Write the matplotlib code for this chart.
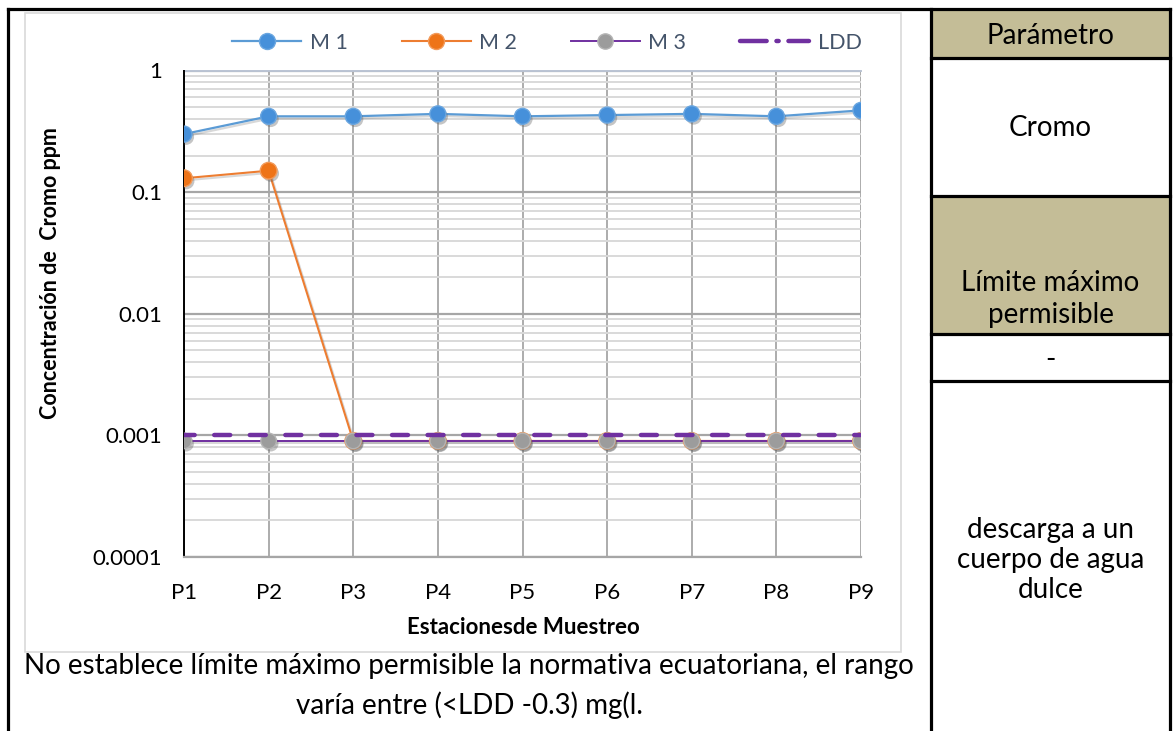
import matplotlib
matplotlib.use("Agg")
import matplotlib.pyplot as plt
import matplotlib.patheffects as pe
from matplotlib.lines import Line2D
from matplotlib.patches import Rectangle
from matplotlib.ticker import LogLocator, NullFormatter

plt.rcParams['font.family'] = ['Lato', 'DejaVu Sans']

# ---- data -------------------------------------------------------------
stations = ['P1', 'P2', 'P3', 'P4', 'P5', 'P6', 'P7', 'P8', 'P9']
m1 = [0.30, 0.42, 0.42, 0.44, 0.42, 0.43, 0.44, 0.42, 0.47]
m2 = [0.13, 0.15, 0.0009, 0.0009, 0.0009, 0.0009, 0.0009, 0.0009, 0.0009]
m3 = [0.0009, 0.0009, 0.0009, 0.0009, 0.0009, 0.0009, 0.0009, 0.0009, 0.0009]
ldd = [0.001, 0.001, 0.001, 0.001, 0.001, 0.001, 0.001, 0.001, 0.001]
series_names = ['M 1', 'M 2', 'M 3', 'LDD']
ytick_vals = [0.0001, 0.001, 0.01, 0.1, 1]
ytick_labels = ['0.0001', '0.001', '0.01', '0.1', '1']

table_rows = ['Parámetro', 'Cromo', 'Límite máximo\npermisible', '-',
              'descarga a un\ncuerpo de agua\ndulce']
note = ('No establece límite máximo permisible la normativa ecuatoriana, el rango\n'
        'varía entre (<LDD -0.3) mg(l.')

# ---- figure geometry (pixels) -----------------------------------------
W, H = 1173, 731
fig = plt.figure(figsize=(W / 100, H / 100), dpi=100)


def fx(x):
    return x / W


def fy(y):
    return 1 - y / H


ax_l, ax_r, ax_t, ax_b = 184, 861, 70.5, 557
ax = fig.add_axes([fx(ax_l), fy(ax_b), (ax_r - ax_l) / W, (ax_b - ax_t) / H])

x = list(range(len(stations)))

c_blue, c_orange, c_gray, c_purple = '#5B9BD5', '#ED7D31', '#A5A5A5', '#7030A0'

line_shadow = [pe.SimpleLineShadow(offset=(1.2, -1.5), shadow_color='0.4', alpha=0.25), pe.Normal()]
mark_shadow = [pe.SimplePatchShadow(offset=(1.5, -2.0), shadow_rgbFace='0.35', alpha=0.35), pe.Normal()]

# lines
ax.plot(x, m1, color=c_blue, lw=1.6, zorder=4, path_effects=line_shadow)
ax.plot(x, m2, color=c_orange, lw=1.5, zorder=4, path_effects=line_shadow)
ax.plot(x, m3, color=c_purple, lw=1.4, zorder=5, path_effects=line_shadow)

# markers
ax.plot(x, m1, ls='none', marker='o', ms=11.5, mfc='#4690DA', mec='#6AA6E0', mew=1.0,
        zorder=6, path_effects=mark_shadow)
ax.plot(x, m2, ls='none', marker='o', ms=12, mfc='#EE7418', mec='#F29A5A', mew=1.0,
        zorder=6, path_effects=mark_shadow)
ax.plot(x, m3, ls='none', marker='o', ms=11.2, mfc='#9C9C9C', mec='#B4B4B4', mew=1.0,
        zorder=7, path_effects=mark_shadow)

# detection limit
ax.plot(x, ldd, color=c_purple, lw=3.2, ls=(1.2, (3.6, 4.4)), dash_capstyle='round',
        zorder=8)

# axes styling
ax.set_yscale('log')
ax.set_ylim(1e-4, 1)
ax.set_xlim(0, len(stations) - 1)
ax.set_xticks(x)
ax.set_xticklabels(stations)
ax.set_yticks(ytick_vals)
ax.set_yticklabels(ytick_labels)
ax.yaxis.set_minor_locator(LogLocator(base=10, subs=range(2, 10), numticks=20))
ax.yaxis.set_minor_formatter(NullFormatter())
ax.tick_params(axis='both', which='both', length=0, labelsize=16, colors='black')
ax.tick_params(axis='y', pad=15.5)
ax.tick_params(axis='x', pad=19)

ax.grid(True, which='major', axis='y', color='#A6A6A6', lw=1.6, zorder=1)
ax.grid(True, which='minor', axis='y', color='#D9D9D9', lw=1.4, zorder=1)
ax.grid(True, which='major', axis='x', color='#A6A6A6', lw=1.3, zorder=1)
ax.set_axisbelow(True)
for side in ('top', 'right'):
    ax.spines[side].set_visible(False)
ax.spines['left'].set_color('black')
ax.spines['left'].set_linewidth(1.4)
ax.spines['bottom'].set_color('#A6A6A6')
ax.spines['bottom'].set_linewidth(1.6)
ax.axhline(1, color='#BAC3D3', lw=1.4, zorder=2, clip_on=False)

# legend
handles = [
    Line2D([], [], color=c_blue, lw=1.6, marker='o', ms=11.5, mfc='#4690DA', mec='#6AA6E0'),
    Line2D([], [], color=c_orange, lw=1.5, marker='o', ms=11.5, mfc='#EE7418', mec='#F29A5A'),
    Line2D([], [], color=c_purple, lw=1.4, marker='o', ms=11, mfc='#9C9C9C', mec='#B4B4B4'),
    Line2D([], [], color=c_purple, lw=3.2, ls=(0, (6.0, 2.2, 0.5, 2.2)), dash_capstyle='round'),
]
leg = fig.legend(handles, series_names, ncol=4, loc='center', bbox_to_anchor=(fx(547), fy(43)),
                 frameon=False, fontsize=15.5, handlelength=3.2, handletextpad=0.4,
                 columnspacing=2.5, borderpad=0, borderaxespad=0)
for t in leg.get_texts():
    t.set_color('#44546A')

# axis titles
fig.text(fx(51), fy(273), 'Concentración de  Cromo ppm', rotation=90, ha='center', va='center',
         fontsize=15.5, fontweight='bold')
fig.text(fx(523), fy(627), 'Estacionesde Muestreo', ha='center', va='center',
         fontsize=16, fontweight='bold')

# chart area outline
fig.add_artist(Rectangle((fx(25), fy(652)), (901 - 25) / W, (652 - 13) / H, transform=fig.transFigure,
                         fill=False, ec='#D9D9D9', lw=1.2, zorder=0))

# note below the chart
fig.text(fx(469), fy(686), note, ha='center', va='center', fontsize=20,
         linespacing=1.55)

# side table
tx0, tx1 = 931, 1170
row_edges = [9, 58, 196, 334, 381, 740]
tan = '#C4BD97'
for top, bot in [(9, 58), (196, 334)]:
    fig.add_artist(Rectangle((fx(tx0), fy(bot)), (tx1 - tx0) / W, (bot - top) / H,
                             transform=fig.transFigure, fc=tan, ec='none', zorder=1))

text_y = [36, 128, 299, 360, 560]
spacing = [1.2, 1.2, 1.3, 1.2, 1.2]
for label, ty, ls in zip(table_rows, text_y, spacing):
    fig.text(fx((tx0 + tx1) / 2), fy(ty), label, ha='center', va='center', fontsize=20,
             linespacing=ls)

lw_frame = 2.3


def hline(y, x0, x1):
    fig.add_artist(Line2D([fx(x0), fx(x1)], [fy(y), fy(y)], transform=fig.transFigure,
                          color='black', lw=lw_frame, solid_capstyle='projecting', zorder=3))


def vline(xv, y0, y1):
    fig.add_artist(Line2D([fx(xv), fx(xv)], [fy(y0), fy(y1)], transform=fig.transFigure,
                          color='black', lw=lw_frame, solid_capstyle='projecting', zorder=3))


hline(9, 8, 1170)
for ry in row_edges[1:5]:
    hline(ry, tx0, tx1)
vline(8, 9, 740)
vline(tx0, 9, 740)
vline(tx1, 9, 740)

fig.savefig('out.png', dpi=100)
